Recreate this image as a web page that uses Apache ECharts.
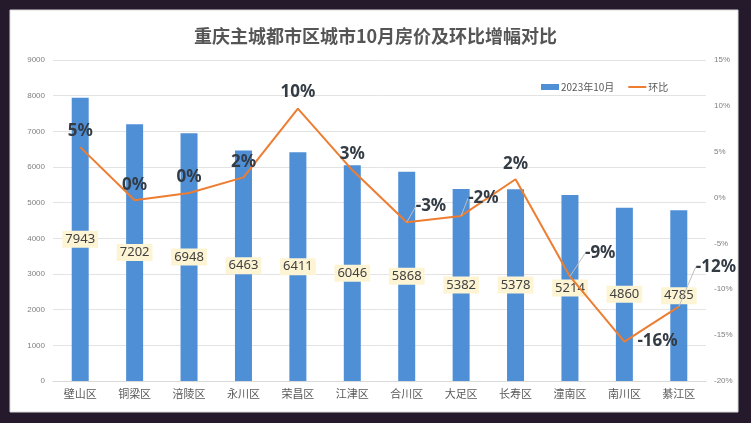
<!DOCTYPE html>
<html><head><meta charset="utf-8">
<script src="https://cdn.jsdelivr.net/npm/echarts@6/dist/echarts.min.js"></script>
<style>html,body{margin:0;padding:0;background:#241a2c;}#c{width:751px;height:423px;}</style>
</head><body><div id="c"></div>
<script>
const categories = ['壁山区','铜梁区','涪陵区','永川区','荣昌区','江津区','合川区','大足区','长寿区','潼南区','南川区','綦江区'];
const prices = [7943,7202,6948,6463,6411,6046,5868,5382,5378,5214,4860,4785];
const momValues = [5.5,-0.3,0.5,2.2,9.7,3.0,-2.7,-2.0,2.0,-8.6,-15.7,-11.9];
const momLabels = ['5%','0%','0%','2%','10%','3%','-3%','-2%','2%','-9%','-16%','-12%'];
const leftTicks = [0,9000,1000];
const rightTicks = [-20,15,5];

const labelSide = ['top','top','top','top','top','top','right','right','top','right','right','right'];
const labelShift = [[0,-2],[0,-2],[0,-2],[0,-2],[0,-3],[0,-2],[4,-16],[2,-18],[0,-2],[10,-23],[8,0],[12,-40]];
const withGuide = [false,false,false,false,false,false,true,true,false,true,false,true];
const lineData = momValues.map((v,i)=>({value:v,
  label:{formatter:momLabels[i],position:labelSide[i]},
  labelLine:{show:withGuide[i],lineStyle:{color:'#bfbfbf',width:1}}}));

const chart = echarts.init(document.getElementById('c'));
chart.setOption({
  backgroundColor:'#241a2c',
  animation:false,
  graphic:[{type:'rect',shape:{x:10,y:10,width:728,height:402},style:{fill:'#ffffff',stroke:'#d9d9d9'},z:-10}],
  title:{text:'重庆主城都市区城市10月房价及环比增幅对比',left:'center',top:22,
    textStyle:{fontSize:18,fontWeight:'bold',color:'#555555',fontFamily:'Noto Sans CJK SC'}},
  legend:{top:77,left:536,itemGap:14,itemWidth:18,itemHeight:6,
    textStyle:{fontSize:10,color:'#595959',fontFamily:'Noto Sans CJK SC',padding:[0,0,0,-3]},
    data:[{name:'2023年10月',icon:'rect'},{name:'环比',icon:'path://M0,0 L18,0 L18,2 L0,2 Z',itemStyle:{color:'#ed7d31'}}]},
  grid:{left:53,right:45,top:60,bottom:42},
  xAxis:{type:'category',data:categories,
    axisLine:{lineStyle:{color:'#d9d9d9'}},axisTick:{show:false},
    axisLabel:{fontSize:11,color:'#595959',margin:7,fontFamily:'Noto Sans CJK SC'}},
  yAxis:[
    {type:'value',min:leftTicks[0],max:leftTicks[1],interval:leftTicks[2],
      axisLine:{show:false},axisTick:{show:false},
      splitLine:{lineStyle:{color:'#e3e3e3'}},
      axisLabel:{fontSize:8,color:'#7f7f7f',margin:8,formatter:v=>String(v)}},
    {type:'value',min:rightTicks[0],max:rightTicks[1],interval:rightTicks[2],
      axisLine:{show:false},axisTick:{show:false},splitLine:{show:false},
      axisLabel:{fontSize:8,color:'#7f7f7f',margin:8,formatter:'{value}%'}}
  ],
  series:[
    {name:'2023年10月',type:'bar',data:prices,barWidth:17,itemStyle:{color:'#4f8fd6'},
      label:{show:true,position:'inside',fontSize:13,color:'#404040',backgroundColor:'#fdf4d4',
        padding:[3,3,1,3],fontFamily:'Noto Sans'}},
    {name:'环比',type:'line',yAxisIndex:1,data:lineData,symbol:'circle',symbolSize:0,showSymbol:true,
      lineStyle:{color:'#ed7d31',width:2},itemStyle:{color:'#ed7d31'},
      labelLayout:function(p){const s=labelShift[p.dataIndex];return {dx:s[0],dy:s[1],hideOverlap:false};},
      label:{show:true,fontSize:17,fontWeight:'bold',color:'#333b45',fontFamily:'Noto Sans'},z:5}
  ]
});
</script></body></html>
